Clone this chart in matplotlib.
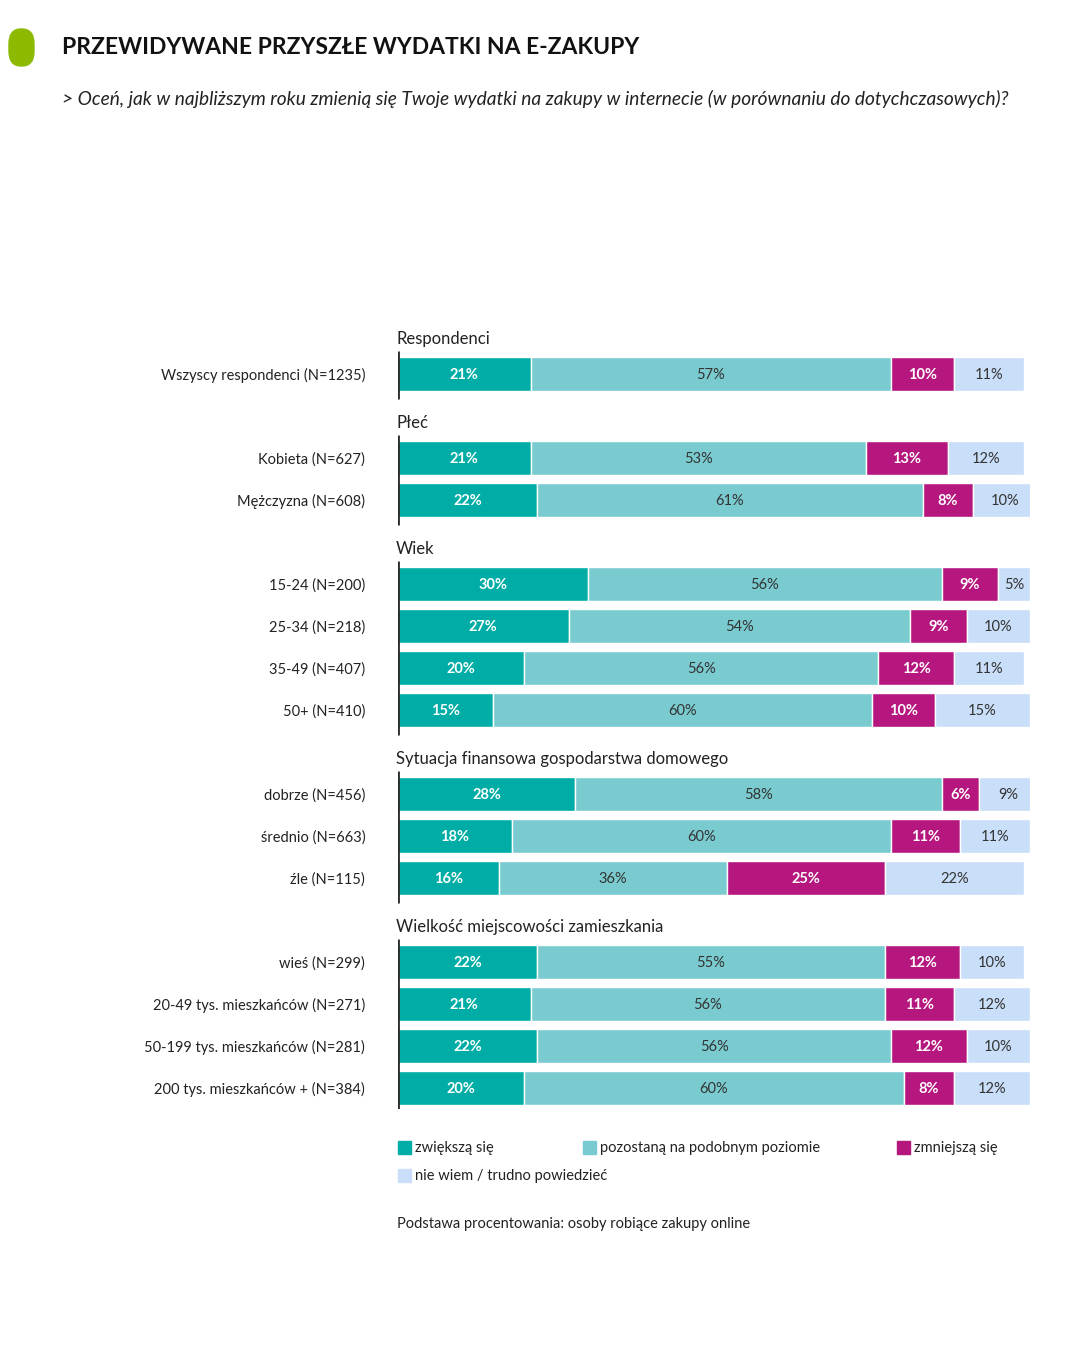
import matplotlib.pyplot as plt
from matplotlib.patches import FancyBboxPatch, Rectangle

plt.rcParams['font.family'] = ['Lato', 'DejaVu Sans']

# data
groups = ['Respondenci', 'Płeć', 'Wiek', 'Sytuacja finansowa gospodarstwa domowego',
          'Wielkość miejscowości zamieszkania']
group_rows = [
    ['Wszyscy respondenci (N=1235)'],
    ['Kobieta (N=627)', 'Mężczyzna (N=608)'],
    ['15-24 (N=200)', '25-34 (N=218)', '35-49 (N=407)', '50+ (N=410)'],
    ['dobrze (N=456)', 'średnio (N=663)', 'źle (N=115)'],
    ['wieś (N=299)', '20-49 tys. mieszkańców (N=271)', '50-199 tys. mieszkańców (N=281)',
     '200 tys. mieszkańców + (N=384)'],
]
increase = [21, 21, 22, 30, 27, 20, 15, 28, 18, 16, 22, 21, 22, 20]
same = [57, 53, 61, 56, 54, 56, 60, 58, 60, 36, 55, 56, 56, 60]
decrease = [10, 13, 8, 9, 9, 12, 10, 6, 11, 25, 12, 11, 12, 8]
dont_know = [11, 12, 10, 5, 10, 11, 15, 9, 11, 22, 10, 12, 10, 12]
series_names = ['zwiększą się', 'pozostaną na podobnym poziomie', 'zmniejszą się',
                'nie wiem / trudno powiedzieć']

colors = ['#00ada6', '#7acbd0', '#b5177f', '#c9def8']
text_colors = ['white', '#333333', 'white', '#333333']

W, H = 1090, 1365
fig = plt.figure(figsize=(W / 100, H / 100), dpi=100)

# axes: x 0..100 -> px 398..1030, slot rows 42 px, slot 0 centred at px 332
n_slots = sum(len(r) + 1 for r in group_rows)
top_px = 332 - 21
bot_px = top_px + 42 * n_slots
ax = fig.add_axes([398 / W, 1 - bot_px / H, 632 / W, (bot_px - top_px) / H])
ax.set_xlim(0, 100)
ax.set_ylim(n_slots - 0.5, -0.5)
ax.axis('off')

# compute y slots
ys, header_ys, labels = [], [], []
s = 0
for g, rows in zip(groups, group_rows):
    header_ys.append(s)
    s += 1
    for r in rows:
        ys.append(s)
        labels.append(r)
        s += 1

data = [increase, same, decrease, dont_know]
left = [0] * len(ys)
for vals, c, tc in zip(data, colors, text_colors):
    ax.barh(ys, vals, left=left, height=0.83, color=c, edgecolor='white', linewidth=1)
    for y, l, v in zip(ys, left, vals):
        ax.text(l + v / 2, y + 0.03, f'{v}%', ha='center', va='center', color=tc,
                fontsize=10.5, fontweight='bold' if tc == 'white' else 'normal')
    left = [a + b for a, b in zip(left, vals)]

for y, lab in zip(ys, labels):
    ax.text(-5.2, y + 0.04, lab, ha='right', va='center', fontsize=10.5, color='#222222')

for g, hy, rows in zip(groups, header_ys, group_rows):
    ax.text(-0.3, hy + 0.17, g, ha='left', va='center', fontsize=12, color='#222222')
    first = hy + 1
    last = hy + len(rows)
    ax.vlines(0, first - 0.55, last + 0.6, color='#2a2a2a', linewidth=2)

# title area
fig.add_artist(FancyBboxPatch((9 / W, 1 - 66 / H), 25 / W, 37 / H,
                              boxstyle='round,pad=0,rounding_size=0.011',
                              transform=fig.transFigure, color='#8dba00'))
fig.text(62 / W, 1 - 48 / H, 'PRZEWIDYWANE PRZYSZŁE WYDATKI NA E-ZAKUPY',
         fontsize=16.5, fontweight='bold', color='#111111', va='center')
fig.text(62 / W, 1 - 99 / H,
         '> Oceń, jak w najbliższym roku zmienią się Twoje wydatki na zakupy w internecie '
         '(w porównaniu do dotychczasowych)?',
         fontsize=13.8, style='italic', color='#222222', va='center')

# legend
leg_pos = [(398, 1148), (583, 1148), (897, 1148), (398, 1176)]
for (x, y), name, c in zip(leg_pos, series_names, colors):
    fig.add_artist(Rectangle((x / W, 1 - (y + 6) / H), 13 / W, 13 / H,
                             transform=fig.transFigure, color=c))
    fig.text((x + 17) / W, 1 - y / H, name, fontsize=10.5, va='center', color='#222222')

fig.text(397 / W, 1 - 1224 / H, 'Podstawa procentowania: osoby robiące zakupy online',
         fontsize=10.5, va='center', color='#222222')

fig.savefig('out.png', dpi=100)
